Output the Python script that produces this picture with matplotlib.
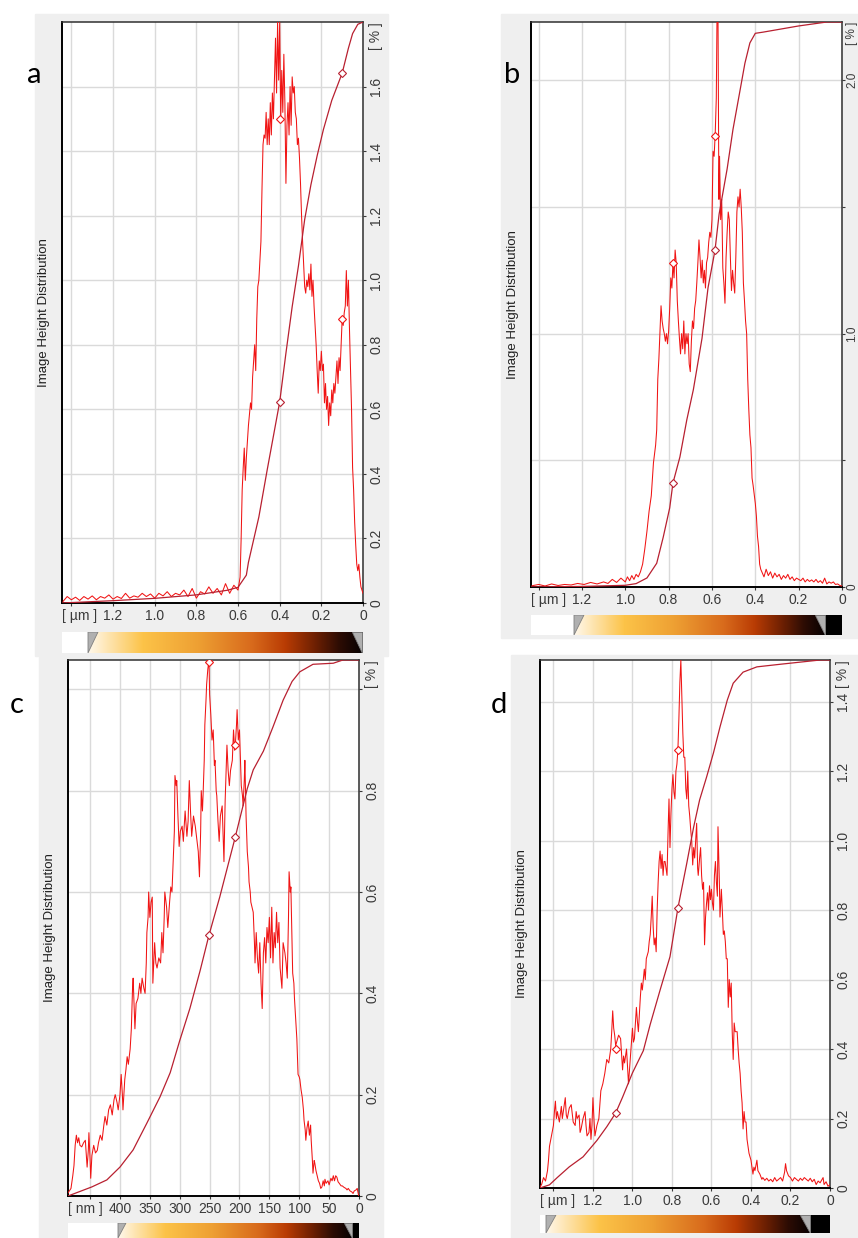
#!/usr/bin/env python3
"""Image height distribution panels (a-d): histogram + cumulative curve with colour scale bars."""

import matplotlib
matplotlib.use("Agg")
import matplotlib.pyplot as plt
from matplotlib.patches import Rectangle, Polygon
from matplotlib.colors import LinearSegmentedColormap
import numpy as np

plt.rcParams['font.family'] = ['Liberation Sans', 'DejaVu Sans']

# ---------------------------------------------------------------- data
# panel a  (height in um, distribution in %)
a_hist = [
    (1.44, 0.005), (1.42, 0.02), (1.40, 0.01), (1.38, 0.018), (1.36, 0.008), (1.34, 0.02),
    (1.32, 0.012), (1.30, 0.022), (1.28, 0.01), (1.26, 0.02), (1.24, 0.015), (1.22, 0.025),
    (1.20, 0.012), (1.18, 0.02), (1.16, 0.014), (1.14, 0.03), (1.12, 0.015), (1.10, 0.022),
    (1.08, 0.018), (1.06, 0.03), (1.04, 0.02), (1.02, 0.028), (1.00, 0.015), (0.98, 0.03),
    (0.96, 0.022), (0.94, 0.035), (0.92, 0.02), (0.90, 0.03), (0.88, 0.025), (0.86, 0.04),
    (0.84, 0.02), (0.82, 0.045), (0.80, 0.015), (0.78, 0.035), (0.76, 0.028), (0.74, 0.05),
    (0.72, 0.03), (0.70, 0.045), (0.68, 0.025), (0.66, 0.06), (0.64, 0.03), (0.62, 0.055),
    (0.60, 0.04), (0.59, 0.08), (0.585, 0.2), (0.58, 0.35), (0.575, 0.42), (0.57, 0.48),
    (0.565, 0.38), (0.56, 0.45), (0.555, 0.5), (0.55, 0.55), (0.54, 0.62), (0.535, 0.6),
    (0.53, 0.7), (0.52, 0.8), (0.515, 0.72), (0.51, 0.88), (0.505, 0.98), (0.50, 1.0),
    (0.49, 1.12), (0.485, 1.28), (0.48, 1.42), (0.475, 1.45), (0.47, 1.44), (0.465, 1.52),
    (0.46, 1.42), (0.455, 1.5), (0.45, 1.42), (0.445, 1.55), (0.44, 1.45), (0.435, 1.58),
    (0.43, 1.5), (0.425, 1.62), (0.42, 1.75), (0.415, 1.58), (0.41, 1.8), (0.405, 1.62),
    (0.40, 1.8), (0.395, 1.5), (0.39, 1.65), (0.385, 1.52), (0.38, 1.7), (0.375, 1.55),
    (0.37, 1.3), (0.365, 1.48), (0.36, 1.55), (0.355, 1.45), (0.35, 1.6), (0.345, 1.48),
    (0.34, 1.63), (0.335, 1.58), (0.33, 1.6), (0.325, 1.52), (0.32, 1.5), (0.315, 1.42),
    (0.31, 1.44), (0.305, 1.38), (0.30, 1.3), (0.295, 1.2), (0.29, 1.12), (0.285, 1.05),
    (0.28, 0.98), (0.275, 0.96), (0.27, 1.0), (0.265, 0.98), (0.26, 1.02), (0.255, 0.97),
    (0.25, 1.05), (0.245, 0.95), (0.24, 1.0), (0.235, 0.92), (0.23, 0.86), (0.225, 0.8),
    (0.22, 0.72), (0.215, 0.65), (0.21, 0.75), (0.205, 0.72), (0.20, 0.78), (0.195, 0.72),
    (0.19, 0.74), (0.185, 0.62), (0.18, 0.68), (0.175, 0.6), (0.17, 0.64), (0.165, 0.55),
    (0.16, 0.62), (0.155, 0.58), (0.15, 0.66), (0.145, 0.62), (0.14, 0.68), (0.135, 0.65),
    (0.13, 0.7), (0.125, 0.75), (0.12, 0.68), (0.115, 0.76), (0.11, 0.72), (0.105, 0.8),
    (0.10, 0.88), (0.095, 0.86), (0.09, 0.9), (0.085, 0.92), (0.08, 1.03), (0.075, 0.92),
    (0.07, 1.0), (0.065, 0.85), (0.06, 0.72), (0.055, 0.6), (0.05, 0.42), (0.045, 0.35),
    (0.04, 0.25), (0.035, 0.18), (0.03, 0.12), (0.025, 0.1), (0.02, 0.12), (0.015, 0.08),
    (0.01, 0.05), (0.005, 0.04), (0.0, 0.03),
]
a_cum = [  # (height, cumulative %)
    (1.445, 0), (1.2, 0.4), (1.0, 0.8), (0.8, 1.4), (0.65, 2.2), (0.6, 2.7), (0.56, 4.8),
    (0.55, 7.0), (0.5, 14.8), (0.46, 22.9), (0.4, 34.6), (0.37, 43), (0.34, 51), (0.31, 58),
    (0.28, 66), (0.25, 72), (0.22, 77), (0.19, 81.5), (0.15, 86.5), (0.1, 91.2),
    (0.07, 95.5), (0.05, 98), (0.025, 99.6), (0.0, 100),
]
a_marks_x = [0.40, 0.10]
a_marks_hist = [1.50, 0.88]
a_marks_cum = [34.6, 91.2]

# panel b
b_hist = [
    (1.43, 0.005), (1.40, 0.01), (1.37, 0.004), (1.34, 0.012), (1.31, 0.006), (1.28, 0.01),
    (1.25, 0.008), (1.22, 0.014), (1.19, 0.01), (1.16, 0.018), (1.13, 0.012), (1.10, 0.02),
    (1.08, 0.014), (1.06, 0.03), (1.04, 0.018), (1.02, 0.035), (1.00, 0.02), (0.99, 0.04),
    (0.98, 0.025), (0.97, 0.045), (0.96, 0.03), (0.95, 0.05), (0.94, 0.04), (0.93, 0.06),
    (0.92, 0.09), (0.91, 0.15), (0.90, 0.22), (0.89, 0.3), (0.88, 0.36), (0.87, 0.49),
    (0.86, 0.56), (0.855, 0.62), (0.85, 0.82), (0.845, 0.9), (0.84, 1.01), (0.835, 1.11),
    (0.83, 1.05), (0.825, 1.02), (0.82, 1.0), (0.815, 0.97), (0.81, 1.0), (0.805, 0.96),
    (0.80, 1.01), (0.795, 1.1), (0.79, 1.22), (0.785, 1.18), (0.78, 1.28), (0.775, 1.22),
    (0.77, 1.33), (0.765, 1.28), (0.76, 1.13), (0.755, 1.05), (0.75, 0.98), (0.745, 0.92),
    (0.74, 1.0), (0.735, 0.94), (0.73, 1.05), (0.725, 0.92), (0.72, 1.0), (0.715, 0.96),
    (0.71, 1.0), (0.705, 0.88), (0.70, 0.85), (0.695, 0.97), (0.69, 1.05), (0.685, 1.02),
    (0.68, 1.1), (0.675, 1.13), (0.67, 1.2), (0.665, 1.28), (0.66, 1.37), (0.655, 1.3),
    (0.65, 1.22), (0.645, 1.29), (0.64, 1.2), (0.635, 1.25), (0.63, 1.18), (0.625, 1.28),
    (0.62, 1.3), (0.615, 1.36), (0.61, 1.4), (0.605, 1.38), (0.60, 1.45), (0.595, 1.72),
    (0.59, 1.7), (0.585, 1.79), (0.58, 1.93), (0.577, 2.23), (0.572, 2.23), (0.568, 1.53),
    (0.565, 1.7), (0.56, 1.45), (0.555, 1.53), (0.55, 1.26), (0.545, 1.2), (0.54, 1.12),
    (0.535, 1.3), (0.53, 1.4), (0.525, 1.48), (0.52, 1.45), (0.515, 1.3), (0.51, 1.17),
    (0.505, 1.25), (0.50, 1.2), (0.495, 1.16), (0.49, 1.3), (0.485, 1.48), (0.48, 1.54),
    (0.475, 1.5), (0.47, 1.57), (0.465, 1.5), (0.46, 1.4), (0.455, 1.2), (0.45, 1.13),
    (0.445, 1.05), (0.44, 1.0), (0.435, 0.82), (0.43, 0.7), (0.425, 0.6), (0.42, 0.55),
    (0.415, 0.43), (0.41, 0.4), (0.40, 0.33), (0.395, 0.28), (0.39, 0.2), (0.385, 0.16),
    (0.38, 0.09), (0.375, 0.07), (0.37, 0.06), (0.36, 0.04), (0.35, 0.07), (0.34, 0.045),
    (0.33, 0.06), (0.32, 0.035), (0.31, 0.055), (0.30, 0.04), (0.29, 0.05), (0.28, 0.03),
    (0.27, 0.045), (0.26, 0.035), (0.25, 0.05), (0.24, 0.03), (0.23, 0.04), (0.22, 0.025),
    (0.21, 0.035), (0.20, 0.03), (0.19, 0.025), (0.18, 0.035), (0.17, 0.02), (0.16, 0.03),
    (0.15, 0.022), (0.14, 0.028), (0.13, 0.02), (0.12, 0.03), (0.11, 0.018), (0.10, 0.025),
    (0.09, 0.015), (0.08, 0.035), (0.07, 0.012), (0.06, 0.02), (0.05, 0.015), (0.04, 0.02),
    (0.03, 0.01), (0.02, 0.012), (0.01, 0.006), (0.0, 0.004),
]
b_cum = [
    (1.435, 0), (1.2, 0.1), (1.0, 0.3), (0.95, 0.6), (0.90, 1.6), (0.855, 4.2), (0.825, 8.8),
    (0.795, 14), (0.78, 18.4), (0.748, 23), (0.716, 29.6), (0.686, 34.9), (0.646, 44),
    (0.618, 53), (0.586, 59.6), (0.567, 66), (0.53, 74), (0.503, 81), (0.47, 88),
    (0.448, 92.7), (0.425, 96.3), (0.40, 98), (0.365, 98.2), (0.2, 99.3), (0.07, 100),
    (0.0, 100),
]
b_marks_x = [0.78, 0.586]
b_marks_hist = [1.28, 1.78]
b_marks_cum = [18.4, 59.6]

# panel c  (height in nm)
c_hist = [
    (487, 0.006), (482, 0.015), (479, 0.04), (477, 0.06), (475, 0.1), (473, 0.12),
    (471, 0.105), (469, 0.115), (467, 0.1), (464, 0.097), (461, 0.105), (458, 0.11),
    (456, 0.075), (455, 0.057), (453, 0.09), (452, 0.125), (450, 0.07), (449, 0.035),
    (447, 0.08), (444, 0.1), (441, 0.085), (438, 0.09), (436, 0.105), (433, 0.12),
    (430, 0.11), (427, 0.14), (425, 0.157), (422, 0.14), (419, 0.17), (416, 0.18),
    (413, 0.16), (410, 0.19), (408, 0.2), (405, 0.185), (403, 0.17), (400, 0.2),
    (398, 0.24), (396, 0.2), (395, 0.17), (392, 0.23), (390, 0.25), (388, 0.275),
    (386, 0.26), (383, 0.29), (381, 0.33), (379, 0.41), (378, 0.43), (376, 0.36),
    (375, 0.33), (373, 0.38), (370, 0.39), (367, 0.42), (365, 0.40), (363, 0.43),
    (360, 0.41), (358, 0.40), (356, 0.46), (355, 0.52), (353, 0.55), (352, 0.60),
    (350, 0.55), (348, 0.58), (346, 0.59), (345, 0.42), (342, 0.5), (340, 0.46),
    (338, 0.45), (335, 0.47), (332, 0.46), (330, 0.52), (328, 0.48), (326, 0.55),
    (325, 0.60), (322, 0.57), (320, 0.53), (317, 0.58), (315, 0.61), (313, 0.6),
    (311, 0.66), (309, 0.72), (308, 0.83), (306, 0.81), (305, 0.82), (303, 0.75),
    (301, 0.69), (299, 0.72), (296, 0.73), (294, 0.7), (291, 0.76), (288, 0.71),
    (286, 0.74), (284, 0.82), (282, 0.76), (280, 0.71), (277, 0.75), (274, 0.73),
    (271, 0.7), (269, 0.68), (267, 0.63), (265, 0.72), (264, 0.80), (262, 0.76),
    (261, 0.79), (259, 0.86), (258, 0.93), (256, 0.98), (255, 1.01), (253, 1.04),
    (251, 1.058), (250, 0.99), (248, 0.95), (246, 0.9), (244, 0.92), (242, 0.85),
    (241, 0.86), (239, 0.8), (238, 0.79), (236, 0.74), (234, 0.70), (232, 0.75),
    (229, 0.77), (227, 0.70), (226, 0.66), (224, 0.78), (221, 0.89), (219, 0.84),
    (217, 0.81), (215, 0.84), (212, 0.86), (210, 0.92), (208, 0.88), (207, 0.89),
    (205, 0.93), (204, 0.96), (202, 0.9), (200, 0.92), (198, 0.85), (197, 0.81),
    (195, 0.79), (194, 0.77), (192, 0.82), (191, 0.86), (189, 0.75), (187, 0.68),
    (185, 0.65), (184, 0.62), (182, 0.6), (181, 0.58), (179, 0.57), (177, 0.56),
    (175, 0.5), (174, 0.46), (172, 0.52), (170, 0.47), (168, 0.44), (166, 0.5),
    (164, 0.42), (162, 0.37), (160, 0.48), (158, 0.51), (156, 0.46), (154, 0.53),
    (152, 0.5), (150, 0.55), (148, 0.47), (146, 0.57), (144, 0.46), (142, 0.52),
    (140, 0.49), (138, 0.56), (136, 0.5), (134, 0.54), (132, 0.45), (129, 0.41),
    (127, 0.5), (124, 0.48), (122, 0.46), (120, 0.43), (118, 0.55), (117, 0.64),
    (115, 0.6), (114, 0.61), (112, 0.5), (111, 0.44), (109, 0.42), (108, 0.39),
    (107, 0.37), (105, 0.33), (104, 0.31), (102, 0.24), (100, 0.235), (99, 0.23),
    (97, 0.21), (95, 0.195), (93, 0.17), (92, 0.15), (90, 0.13), (89, 0.11),
    (87, 0.135), (85, 0.148), (83, 0.12), (81, 0.14), (80, 0.11), (78, 0.07),
    (77, 0.045), (75, 0.07), (74, 0.065), (72, 0.05), (70, 0.04), (68, 0.03),
    (66, 0.025), (64, 0.015), (62, 0.018), (60, 0.03), (58, 0.02), (57, 0.033),
    (55, 0.025), (52, 0.03), (50, 0.022), (47, 0.035), (45, 0.03), (43, 0.04),
    (41, 0.03), (39, 0.04), (37, 0.037), (35, 0.028), (33, 0.025), (30, 0.02),
    (28, 0.02), (25, 0.017), (22, 0.015), (20, 0.012), (18, 0.015), (15, 0.01),
    (12, 0.008), (10, 0.005), (8, 0.01), (5, 0.012), (3, 0.015), (1, 0.003), (0, 0.0),
]
c_cum = [
    (487, 0), (447, 1.7), (422, 3), (400, 5.4), (378, 8.6), (355, 13.6), (333, 18.5),
    (316, 23), (300, 29), (283, 35), (266, 42), (251, 48.7), (233, 55.8), (207, 67),
    (187, 76), (177, 79.5), (160, 83), (144, 87.5), (127, 92.5), (112, 96), (99, 97.8),
    (77, 99.2), (43, 99.4), (27, 100), (0, 100),
]
c_marks_x = [251, 207]
c_marks_hist = [1.055, 0.89]
c_marks_cum = [48.7, 67]

# panel d
d_hist = [
    (1.468, 0.003), (1.46, 0.01), (1.45, 0.03), (1.44, 0.02), (1.43, 0.05), (1.425, 0.08),
    (1.42, 0.12), (1.41, 0.15), (1.40, 0.18), (1.395, 0.22), (1.39, 0.25), (1.385, 0.2),
    (1.38, 0.22), (1.37, 0.19), (1.36, 0.235), (1.355, 0.2), (1.35, 0.22), (1.34, 0.26),
    (1.335, 0.21), (1.33, 0.2), (1.32, 0.23), (1.31, 0.24), (1.30, 0.19), (1.29, 0.18),
    (1.285, 0.22), (1.28, 0.2), (1.27, 0.21), (1.265, 0.16), (1.26, 0.17), (1.25, 0.2),
    (1.24, 0.22), (1.235, 0.18), (1.23, 0.15), (1.22, 0.16), (1.215, 0.2), (1.21, 0.14),
    (1.205, 0.18), (1.20, 0.26), (1.195, 0.2), (1.19, 0.15), (1.18, 0.18), (1.17, 0.2),
    (1.165, 0.24), (1.16, 0.28), (1.15, 0.3), (1.14, 0.33), (1.135, 0.35), (1.13, 0.37),
    (1.12, 0.36), (1.11, 0.4), (1.105, 0.45), (1.10, 0.51), (1.095, 0.46), (1.09, 0.44),
    (1.085, 0.41), (1.08, 0.42), (1.07, 0.44), (1.06, 0.43), (1.05, 0.34), (1.045, 0.38),
    (1.04, 0.36), (1.03, 0.40), (1.02, 0.30), (1.01, 0.38), (1.00, 0.46), (0.995, 0.42),
    (0.99, 0.43), (0.98, 0.52), (0.975, 0.48), (0.97, 0.45), (0.96, 0.55), (0.955, 0.59),
    (0.95, 0.57), (0.94, 0.63), (0.935, 0.6), (0.93, 0.66), (0.92, 0.68), (0.915, 0.71),
    (0.91, 0.73), (0.905, 0.78), (0.90, 0.84), (0.895, 0.75), (0.89, 0.70), (0.885, 0.72),
    (0.88, 0.68), (0.875, 0.8), (0.87, 0.88), (0.865, 0.94), (0.86, 0.97), (0.855, 0.92),
    (0.85, 0.96), (0.845, 0.9), (0.84, 0.94), (0.835, 0.94), (0.83, 0.92), (0.825, 0.90),
    (0.82, 1.02), (0.815, 1.12), (0.81, 0.98), (0.805, 1.08), (0.80, 1.15), (0.795, 1.19),
    (0.79, 1.14), (0.785, 1.12), (0.78, 1.2), (0.775, 1.22), (0.77, 1.26), (0.765, 1.35),
    (0.76, 1.455), (0.755, 1.52), (0.75, 1.41), (0.745, 1.31), (0.74, 1.24), (0.735, 1.24),
    (0.73, 1.15), (0.725, 1.12), (0.72, 1.20), (0.715, 1.1), (0.71, 1.07), (0.705, 1.03),
    (0.70, 1.0), (0.695, 0.93), (0.69, 0.98), (0.685, 0.95), (0.68, 1.0), (0.675, 1.05),
    (0.67, 0.92), (0.667, 0.9), (0.66, 0.95), (0.655, 0.98), (0.65, 0.9), (0.645, 0.86),
    (0.64, 0.88), (0.635, 0.70), (0.63, 0.78), (0.625, 0.82), (0.62, 0.85), (0.615, 0.8),
    (0.61, 0.87), (0.605, 0.83), (0.60, 0.86), (0.595, 0.82), (0.59, 0.80), (0.585, 0.9),
    (0.58, 0.94), (0.575, 0.88), (0.57, 0.84), (0.567, 1.04), (0.56, 0.88), (0.557, 0.78),
    (0.55, 0.86), (0.545, 0.8), (0.54, 0.73), (0.535, 0.74), (0.53, 0.71), (0.525, 0.66),
    (0.52, 0.66), (0.515, 0.52), (0.51, 0.6), (0.505, 0.55), (0.50, 0.59), (0.495, 0.45),
    (0.49, 0.37), (0.485, 0.475), (0.48, 0.45), (0.47, 0.45), (0.465, 0.4), (0.46, 0.36),
    (0.455, 0.33), (0.45, 0.28), (0.445, 0.245), (0.44, 0.17), (0.435, 0.22), (0.43, 0.19),
    (0.425, 0.19), (0.42, 0.14), (0.415, 0.12), (0.41, 0.1), (0.40, 0.08), (0.395, 0.06),
    (0.39, 0.04), (0.385, 0.06), (0.38, 0.05), (0.37, 0.08), (0.365, 0.05), (0.355, 0.04),
    (0.345, 0.025), (0.34, 0.03), (0.33, 0.022), (0.32, 0.028), (0.31, 0.02), (0.30, 0.025),
    (0.29, 0.018), (0.28, 0.03), (0.27, 0.02), (0.26, 0.025), (0.25, 0.03), (0.24, 0.02),
    (0.23, 0.045), (0.225, 0.07), (0.22, 0.05), (0.21, 0.035), (0.20, 0.03), (0.19, 0.02),
    (0.18, 0.03), (0.17, 0.025), (0.16, 0.02), (0.15, 0.028), (0.14, 0.022), (0.13, 0.03),
    (0.12, 0.025), (0.11, 0.02), (0.10, 0.028), (0.09, 0.018), (0.08, 0.025), (0.07, 0.01),
    (0.06, 0.02), (0.05, 0.015), (0.04, 0.025), (0.035, 0.03), (0.03, 0.01), (0.02, 0.018),
    (0.01, 0.005), (0.0, 0.01),
]
d_cum = [
    (1.468, 0), (1.42, 0.6), (1.38, 2), (1.32, 4), (1.25, 5.9), (1.18, 9), (1.13, 11.6),
    (1.085, 14.2), (1.05, 17.2), (1.0, 21.8), (0.945, 26), (0.91, 31), (0.86, 37.5),
    (0.81, 43.8), (0.77, 53), (0.725, 61.5), (0.69, 68.4), (0.66, 73.5), (0.625, 77.8),
    (0.59, 82.4), (0.557, 87.3), (0.52, 92.4), (0.49, 95.6), (0.44, 97.7), (0.37, 98.7),
    (0.25, 99.2), (0.05, 100), (0.0, 100),
]
d_marks_x = [0.77, 1.085]
d_marks_hist = [1.26, 0.40]
d_marks_cum = [53, 14.2]

um_ticks = [1.4, 1.2, 1.0, 0.8, 0.6, 0.4, 0.2, 0.0]
um_labels = ['', '1.2', '1.0', '0.8', '0.6', '0.4', '0.2', '0']
nm_ticks = [450, 400, 350, 300, 250, 200, 150, 100, 50, 0]
nm_labels = ['', '400', '350', '300', '250', '200', '150', '100', '50', '0']

# ---------------------------------------------------------------- layout (pixels)
W, H = 858, 1238
HIST_RED = '#f01414'
CUM_RED = '#b82030'
GRID = '#dadada'
TXT = '#3a3a3a'

scale_cmap = LinearSegmentedColormap.from_list('afm', [
    (0.0, '#fff8ec'), (0.2, '#fcc348'), (0.4, '#eea033'), (0.6, '#d86a1c'),
    (0.72, '#b93c04'), (0.83, '#6e2002'), (0.92, '#2c0c04'), (1.0, '#080202')])


def rect(l, t, r, b):
    return [l / W, 1 - b / H, (r - l) / W, (b - t) / H]


def gray_panel(fig, l, t, r, b):
    fig.patches.append(Rectangle((l / W, 1 - b / H), (r - l) / W, (b - t) / H,
                                 transform=fig.transFigure, color='#efefef', zorder=-10))


def colour_bar(fig, l, t, r, b, g0, g1, tri):
    ax = fig.add_axes(rect(l, t, r, b))
    ax.set_xlim(l, r)
    ax.set_ylim(0, 1)
    ax.axis('off')
    ax.add_patch(Rectangle((l, 0), g0 - l, 1, color='white', lw=0))
    ax.imshow(np.linspace(0, 1, 256)[None, :], cmap=scale_cmap, aspect='auto',
              extent=(g0, g1, 0, 1))
    ax.add_patch(Rectangle((g1, 0), r - g1, 1, color='black', lw=0))
    ax.add_patch(Polygon([(g0, 1), (g0 + tri, 1), (g0, 0)], closed=True,
                         fc='#b0b0b0', ec='#808080', lw=0.6))
    ax.add_patch(Polygon([(g1 - tri, 1), (g1, 1), (g1, 0)], closed=True,
                         fc='#b0b0b0', ec='#808080', lw=0.6))
    ax.set_xlim(l, r)
    ax.set_ylim(0, 1)


def panel(fig, box, hist, cum, mx, mh, mc, xlim, ylim, xticks, xlabels,
          yticks, ylabels, unit, yfs=10, ypad=2):
    ax = fig.add_axes(rect(*box))
    hx, hy = zip(*hist)
    cx, cy = zip(*cum)
    ax.plot(hx, hy, color=HIST_RED, lw=0.75, zorder=3)
    cum_tr = ax.get_xaxis_transform()
    ax.plot(cx, np.array(cy) / 100.0, color=CUM_RED, lw=0.9, transform=cum_tr, zorder=4)
    ax.plot(mx, mh, ls='none', marker='D', ms=3.8, mfc='white', mec=HIST_RED,
            mew=0.8, zorder=5)
    ax.plot(mx, np.array(mc) / 100.0, ls='none', marker='D', ms=3.8, mfc='white',
            mec=CUM_RED, mew=0.8, transform=cum_tr, zorder=5)

    ax.set_xlim(*xlim)
    ax.set_ylim(*ylim)
    ax.set_xticks(xticks)
    ax.set_xticklabels(xlabels)
    ax.set_yticks(yticks)
    ax.set_yticklabels(ylabels)
    ax.yaxis.tick_right()
    ax.grid(True, color=GRID, lw=1.0)
    ax.set_axisbelow(True)
    ax.tick_params(axis='x', length=2, pad=2, labelsize=10, colors=TXT, width=0.8)
    ax.tick_params(axis='y', length=2.5, pad=ypad, labelsize=yfs, colors=TXT,
                   labelrotation=90, width=0.8)
    for lbl in ax.get_yticklabels():
        lbl.set_va('center')
    for side in ('left', 'bottom'):
        ax.spines[side].set_color('black')
        ax.spines[side].set_linewidth(1.4)
    for side in ('top', 'right'):
        ax.spines[side].set_color('#303030')
        ax.spines[side].set_linewidth(1.1)

    ax.annotate(unit, xy=(0, 0), xycoords='axes fraction', xytext=(0, -4.3),
                textcoords='offset points', ha='left', va='top', fontsize=10, color=TXT)
    ax.annotate('[ % ]', xy=(1, 1), xycoords='axes fraction', xytext=(2.5 + ypad, 0),
                textcoords='offset points', ha='left', va='top', rotation=90,
                fontsize=yfs, color=TXT)
    ax.annotate('Image Height Distribution', xy=(0, 0.5), xycoords='axes fraction',
                xytext=(-13, 0), textcoords='offset points', ha='center', va='center',
                rotation=90, fontsize=9.5, color='#202020')
    return ax


def main():
    fig = plt.figure(figsize=(W / 100, H / 100), dpi=100)

    gray_panel(fig, 35, 14, 388, 656)
    gray_panel(fig, 501, 14, 858, 638)
    gray_panel(fig, 39, 657, 383, 1238)
    gray_panel(fig, 511, 655, 858, 1238)

    panel(fig, (62, 22, 363, 603), a_hist, a_cum, a_marks_x, a_marks_hist, a_marks_cum,
          (1.445, 0), (0, 1.80), um_ticks, um_labels,
          [0, 0.2, 0.4, 0.6, 0.8, 1.0, 1.2, 1.4, 1.6],
          ['0', '0.2', '0.4', '0.6', '0.8', '1.0', '1.2', '1.4', '1.6'], '[ µm ]')
    panel(fig, (531, 22, 842, 587), b_hist, b_cum, b_marks_x, b_marks_hist, b_marks_cum,
          (1.435, 0), (0, 2.23), um_ticks, um_labels,
          [0, 0.5, 1.0, 1.5, 2.0], ['0', '', '1.0', '', '2.0'], '[ µm ]',
          yfs=8.5, ypad=0.6)
    panel(fig, (68, 660, 359, 1196), c_hist, c_cum, c_marks_x, c_marks_hist, c_marks_cum,
          (487, 0), (0, 1.058), nm_ticks, nm_labels,
          [0, 0.2, 0.4, 0.6, 0.8, 1.0], ['0', '0.2', '0.4', '0.6', '0.8', ''], '[ nm ]')
    panel(fig, (540, 660, 830, 1188), d_hist, d_cum, d_marks_x, d_marks_hist, d_marks_cum,
          (1.468, 0), (0, 1.52), um_ticks, um_labels,
          [0, 0.2, 0.4, 0.6, 0.8, 1.0, 1.2, 1.4],
          ['0', '0.2', '0.4', '0.6', '0.8', '1.0', '1.2', '1.4'], '[ µm ]')

    colour_bar(fig, 62, 632, 363, 653, 88, 362, 10)
    colour_bar(fig, 531, 615, 842, 635, 574, 825, 10)
    colour_bar(fig, 68, 1223, 359, 1238, 118, 352, 8)
    colour_bar(fig, 540, 1215, 830, 1233, 546, 810, 10)

    for letter, x, y in (('a', 34, 83), ('b', 512, 83), ('c', 17, 713), ('d', 499, 713)):
        fig.text(x / W, 1 - y / H, letter, ha='center', va='baseline', fontsize=21,
                 family=['Lato', 'DejaVu Sans'], color='black')

    fig.savefig('out.png', dpi=100)


if __name__ == "__main__":
    main()
